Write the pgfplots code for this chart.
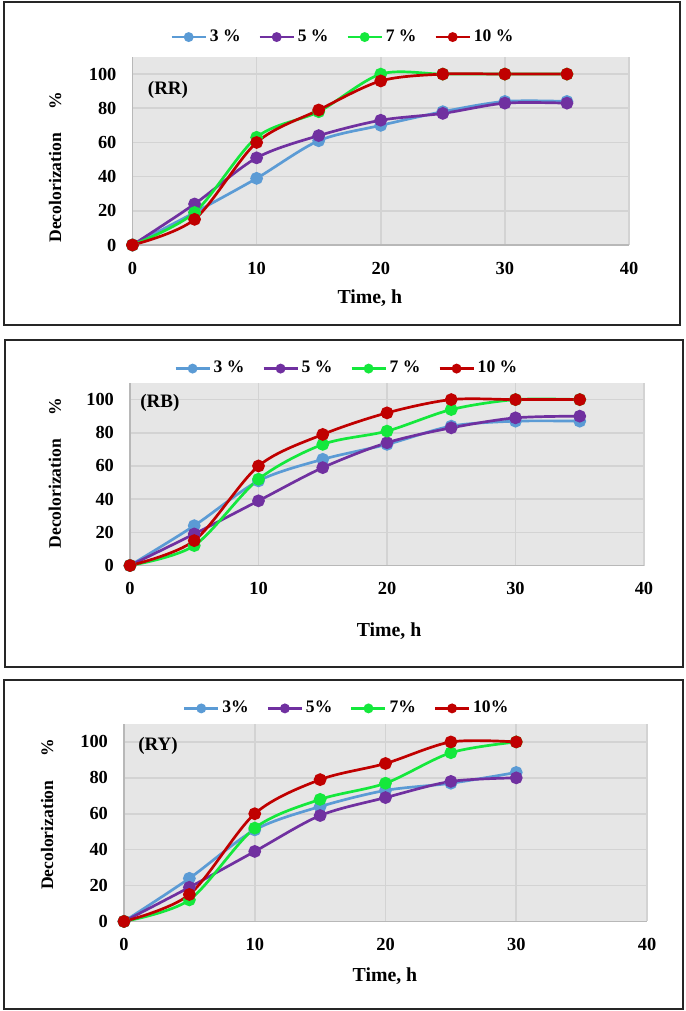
\documentclass[border=0pt]{standalone}
\usepackage{fontspec}
\setmainfont{Liberation Serif}
\usepackage{pgfplots}
\pgfplotsset{compat=1.18}
\definecolor{cA}{HTML}{5B9BD5}
\definecolor{cB}{HTML}{7030A0}
\definecolor{cC}{RGB}{20,232,60}
\definecolor{cD}{HTML}{C00000}
\definecolor{bggray}{HTML}{E6E6E6}
\definecolor{gridgray}{HTML}{D3D3D3}
\definecolor{axisgray}{HTML}{B8B8B8}
\newcommand{\tf}{\fontsize{9.2}{10}\selectfont\bfseries}
\newcommand{\lf}{\fontsize{8.8}{10}\selectfont\bfseries}
\pgfplotsset{
  panel/.style={
    scale only axis, anchor=south west,
    xmin=0, xmax=40, ymin=0, ymax=110,
    xtick={0,10,20,30,40}, ytick={0,20,40,60,80,100},
    axis lines*=left,
    axis line style={-, draw=axisgray, line width=0.8pt},
    axis background/.style={fill=bggray},
    grid=major, major grid style={draw=gridgray, line width=0.8pt},
    major tick length=0pt,
    tick label style={font=\tf},
    /pgf/number format/assume math mode=true,
    xticklabel style={yshift=-5pt},
    yticklabel style={xshift=-4.5pt},
    xlabel={Time, h},
    ylabel={Decolorization\hspace{12pt}\%},
    legend columns=4,
    legend style={draw=none, fill=none, anchor=center, font=\lf,
      nodes={inner sep=1pt},
      /tikz/every odd column/.append style={column sep=0.5pt},
      /tikz/every even column/.append style={column sep=8pt}},
    legend image code/.code={
      \draw[mark repeat=2, mark phase=2, mark size=1.9pt, line width=1.1pt]
      plot coordinates {(0pt,0pt) (8.5pt,0pt) (17pt,0pt)};},
    clip=false,
    every axis plot/.append style={smooth, line width=1.35pt, mark=*, mark size=2.5pt},
  }
}
\begin{document}
\begin{tikzpicture}
\useasboundingbox (0pt,0pt) rectangle (342.5pt,-505.5pt);
\draw[line width=1pt, black!85] (2pt,-1pt) rectangle (340pt,-162.5pt);
\draw[line width=1pt, black!85] (2.5pt,-170pt) rectangle (341.5pt,-333.5pt);
\draw[line width=1pt, black!85] (2pt,-340pt) rectangle (341.5pt,-504.5pt);

% Panel 1 (RR)
\begin{axis}[panel, at={(66.25pt,-122.5pt)}, width=248.25pt, height=94pt,
  every axis x label/.style={at={(axis description cs:0.478,-0.282)}, anchor=center, font=\fontsize{9.9}{11}\selectfont\bfseries},
  every axis y label/.style={at={(axis description cs:-0.156,0.415)}, anchor=center, rotate=90, font=\lf},
  legend style={at={(axis description cs:0.424,1.106)}}]
\addplot[color=cA] coordinates {(0,0) (5,19) (10,39) (15,61) (20,70) (25,78) (30,84) (35,84)};
\addlegendentry{3 \%}
\addplot[color=cB] coordinates {(0,0) (5,24) (10,51) (15,64) (20,73) (25,77) (30,83) (35,83)};
\addlegendentry{5 \%}
\addplot[color=cC] coordinates {(0,0) (5,19) (10,63) (15,78) (20,100) (25,100) (30,100) (35,100)};
\addlegendentry{7 \%}
\addplot[color=cD] coordinates {(0,0) (5,15) (10,60) (15,79) (20,96) (25,100) (30,100) (35,100)};
\addlegendentry{10 \%}
\node[font=\fontsize{9.5}{11}\selectfont\bfseries] at (axis cs:2.86,90.7) {(RR)};
\end{axis}

% Panel 2 (RB)
\begin{axis}[panel, at={(65pt,-282.75pt)}, width=257pt, height=91.25pt,
  every axis x label/.style={at={(axis description cs:0.504,-0.362)}, anchor=center, font=\fontsize{9.9}{11}\selectfont\bfseries},
  every axis y label/.style={at={(axis description cs:-0.146,0.507)}, anchor=center, rotate=90, font=\lf},
  legend style={at={(axis description cs:0.422,1.079)}}]
\addplot[color=cA] coordinates {(0,0) (5,24) (10,51) (15,64) (20,73) (25,84) (30,87) (35,87)};
\addlegendentry{3 \%}
\addplot[color=cB] coordinates {(0,0) (5,19) (10,39) (15,59) (20,74) (25,83) (30,89) (35,90)};
\addlegendentry{5 \%}
\addplot[color=cC] coordinates {(0,0) (5,12) (10,52) (15,73) (20,81) (25,94) (30,100) (35,100)};
\addlegendentry{7 \%}
\addplot[color=cD] coordinates {(0,0) (5,15) (10,60) (15,79) (20,92) (25,100) (30,100) (35,100)};
\addlegendentry{10 \%}
\node[font=\fontsize{9.5}{11}\selectfont\bfseries] at (axis cs:2.33,97.9) {(RB)};
\end{axis}

% Panel 3 (RY)
\begin{axis}[panel, at={(62pt,-460.7pt)}, width=261.5pt, height=98.7pt,
  every axis x label/.style={at={(axis description cs:0.499,-0.277)}, anchor=center, font=\fontsize{9.9}{11}\selectfont\bfseries},
  every axis y label/.style={at={(axis description cs:-0.147,0.542)}, anchor=center, rotate=90, font=\lf},
  legend style={at={(axis description cs:0.426,1.079)}}]
\addplot[color=cA] coordinates {(0,0) (5,24) (10,51) (15,64) (20,73) (25,77) (30,83)};
\addlegendentry{3\%}
\addplot[color=cB] coordinates {(0,0) (5,19) (10,39) (15,59) (20,69) (25,78) (30,80)};
\addlegendentry{5\%}
\addplot[color=cC] coordinates {(0,0) (5,12) (10,52) (15,68) (20,77) (25,94) (30,100)};
\addlegendentry{7\%}
\addplot[color=cD] coordinates {(0,0) (5,15) (10,60) (15,79) (20,88) (25,100) (30,100)};
\addlegendentry{10\%}
\node[font=\fontsize{9.5}{11}\selectfont\bfseries] at (axis cs:2.6,97.7) {(RY)};
\end{axis}
\end{tikzpicture}
\end{document}
